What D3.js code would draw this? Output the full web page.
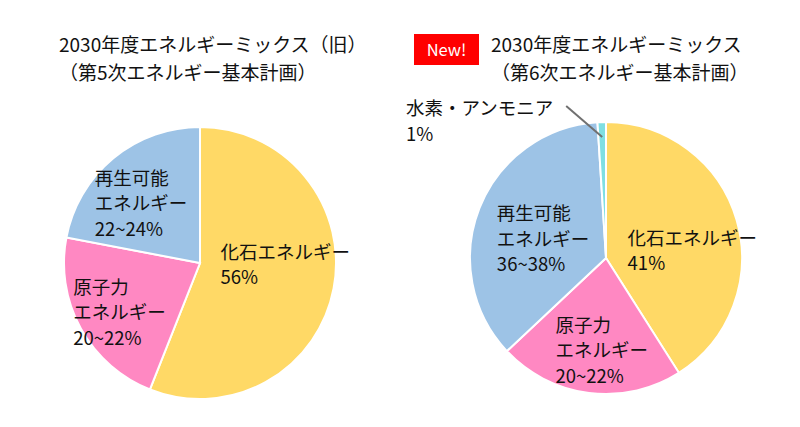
<!DOCTYPE html>
<html>
<head>
<meta charset="utf-8">
<script src="https://cdn.jsdelivr.net/npm/d3@7"></script>
<style>
  body { margin: 0; background: #fff; }
  svg { display: block; font-family: "Noto Sans CJK JP", "Noto Sans", sans-serif; }
  .label { font-size: 18.5px; fill: #111; }
  .title { font-size: 19px; fill: #111; }
</style>
</head>
<body>
<svg id="chart" width="800" height="427"></svg>
<script>
// data
const oldCategories = ["化石エネルギー", "原子力\nエネルギー", "再生可能\nエネルギー"];
const oldValues = [56, 22, 22];
const oldLabels = ["56%", "20~22%", "22~24%"];

const newCategories = ["化石エネルギー", "原子力\nエネルギー", "再生可能\nエネルギー", "水素・アンモニア"];
const newValues = [41, 22, 36, 1];
const newLabels = ["41%", "20~22%", "36~38%", "1%"];

const titlesOld = ["2030年度エネルギーミックス（旧）", "（第5次エネルギー基本計画）"];
const titlesNew = ["2030年度エネルギーミックス", "（第6次エネルギー基本計画）"];

const colors = ["#FFD966", "#FF88C2", "#9DC3E6", "#7FDFE2"];

const svg = d3.select("#chart");
const radius = 136;
const lineH = 25.5;

function drawPie(cx, cy, cats, values, labels, nudges)
{
  let g = svg.append("g").attr("transform", `translate(${cx},${cy})`);
  let pie = d3.pie().sort(null).value(d => d);
  let arcs = pie(values);
  let arc = d3.arc().innerRadius(0).outerRadius(radius);
  let labelArc = d3.arc().innerRadius(radius * 0.6).outerRadius(radius * 0.6);

  g.selectAll("path.slice")
    .data(arcs)
    .enter().append("path")
    .attr("class", "slice")
    .attr("d", arc)
    .attr("fill", (d, i) => colors[i])
    .attr("stroke", "#fff")
    .attr("stroke-width", 2);

  arcs.forEach(function(d, i) {
    if (values[i] < 3) return; // small slice labelled outside
    let lines = cats[i].split("\n").concat([labels[i]]);
    let c = labelArc.centroid(d);
    let t = g.append("text").attr("class", "label");
    lines.forEach(function(s, j) {
      t.append("tspan").attr("x", 0).attr("y", (j - (lines.length - 1) / 2) * lineH).attr("dy", "0.35em").text(s);
    });
    let w = t.node().getBBox().width;
    let n = nudges[i] || [0, 0];
    t.attr("transform", `translate(${c[0] - w / 2 + n[0]},${c[1] + n[1]})`);
  });

  return {g: g, arcs: arcs};
}

function drawTitle(x, lines)
{
  lines.forEach(function(s, j) {
    svg.append("text").attr("class", "title")
      .attr("x", x).attr("y", 45 + j * 28).attr("dy", "0.35em")
      .text(s);
  });
}

drawTitle(59, titlesOld);
drawTitle(491, titlesNew);

// New! badge
svg.append("rect").attr("x", 414).attr("y", 34).attr("width", 65).attr("height", 31).attr("fill", "#FF0000");
svg.append("text").attr("x", 446.5).attr("y", 50).attr("dy", "0.35em")
  .attr("text-anchor", "middle").attr("fill", "#fff").style("font-size", "16.5px").text("New!");

drawPie(200, 263, oldCategories, oldValues, oldLabels, [[5, -13.5], [-9, 10.5], [-7, 3.5]]);
let right = drawPie(606, 258, newCategories, newValues, newLabels, [[8, 16], [6, 12], [13, 11.5]]);

// hydrogen / ammonia leader + label
let h = right.arcs[3];
let inner = d3.arc().innerRadius(radius * 0.89).outerRadius(radius * 0.89).centroid(h);
let outer = [inner[0] - 36, inner[1] - 31];
right.g.append("line")
  .attr("x1", inner[0]).attr("y1", inner[1])
  .attr("x2", outer[0]).attr("y2", outer[1])
  .attr("stroke", "#707070").attr("stroke-width", 2);
let ht = right.g.append("text").attr("class", "label");
ht.append("tspan").attr("x", 0).attr("y", 0).attr("dy", "0.35em").text(newCategories[3]);
ht.append("tspan").attr("x", 0).attr("y", 27).attr("dy", "0.35em").text(newLabels[3]);
let hw = ht.node().getBBox().width;
ht.attr("transform", `translate(${outer[0] - hw - 13},${outer[1] + 2})`);
</script>
</body>
</html>
